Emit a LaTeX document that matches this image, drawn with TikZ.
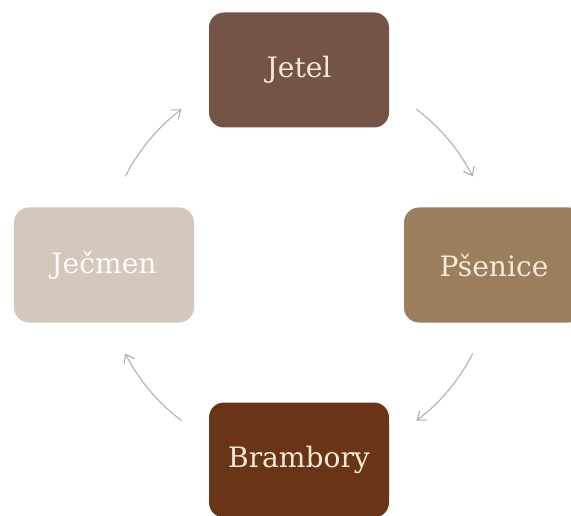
\documentclass[tikz,border=0pt]{standalone}
\usepackage{fontspec}
\setmainfont{DejaVu Serif}
\definecolor{jetelbrown}{RGB}{115, 84, 70}
\definecolor{psenicebrown}{RGB}{155, 127, 92}
\definecolor{bramborybrown}{RGB}{106, 53, 22}
\definecolor{jecmenbeige}{RGB}{211, 200, 187}
\definecolor{cream}{RGB}{244, 234, 218}
\definecolor{arrowgray}{RGB}{165, 178, 170}
\usepackage{tikz}
\usetikzlibrary{arrows.meta, positioning}

\begin{document}
\begin{tikzpicture}[
  crop/.style={rounded corners=0.45cm, minimum width=5.4cm, minimum height=3.45cm, inner sep=2pt, font=\fontsize{24}{29}\selectfont, align=center, text=cream},
  croparrow/.style={-{Straight Barb[length=2.4mm, width=3.6mm]}, line width=0.9pt, arrowgray}
]
  \useasboundingbox (-8.97, -7.5) rectangle (8.16, 7.95);

  % Crops round the cycle
  \node[crop, fill=jetelbrown] (jetel) at (0, 5.85) {Jetel};
  \node[crop, fill=psenicebrown] (psenice) at (5.85, 0) {Pšenice};
  \node[crop, fill=bramborybrown] (brambory) at (0, -5.85) {Brambory};
  \node[crop, fill=jecmenbeige, text=white!95!jecmenbeige] (jecmen) at (-5.85, 0) {Ječmen};

  % Arrow ends on the circle
  \coordinate (jetel-out) at (53:5.85);
  \coordinate (psenice-out) at (-27:5.85);
  \coordinate (brambory-out) at (-127:5.85);
  \coordinate (jecmen-out) at (153:5.85);

  % Arrows
  \draw[croparrow] (jetel-out) arc[start angle=53, end angle=27, radius=5.85];
  \draw[croparrow] (psenice-out) arc[start angle=-27, end angle=-53, radius=5.85];
  \draw[croparrow] (brambory-out) arc[start angle=-127, end angle=-153, radius=5.85];
  \draw[croparrow] (jecmen-out) arc[start angle=153, end angle=127, radius=5.85];
\end{tikzpicture}
\end{document}
